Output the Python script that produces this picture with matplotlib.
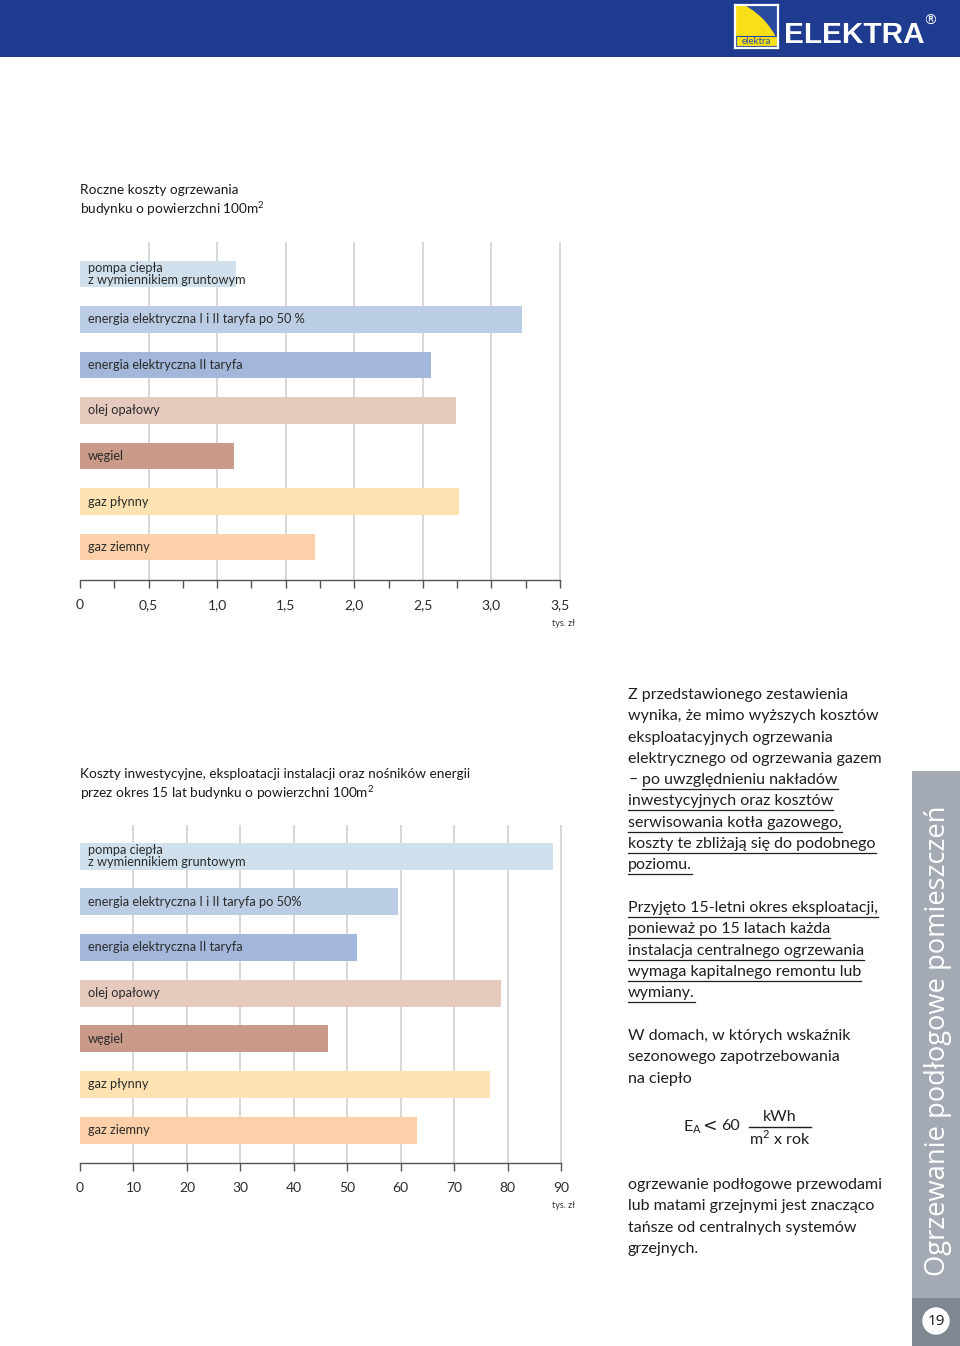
import matplotlib
matplotlib.use("Agg")
import matplotlib.pyplot as plt
from matplotlib.patches import Rectangle, Circle
from matplotlib.lines import Line2D

plt.rcParams['font.family'] = ['Lato', 'DejaVu Sans']

W, H = 960, 1346

# ---------------- data ----------------
categories = ["pompa ciepła\nz wymiennikiem gruntowym",
              "energia elektryczna I i II taryfa po 50 %",
              "energia elektryczna II taryfa",
              "olej opałowy",
              "węgiel",
              "gaz płynny",
              "gaz ziemny"]
categories2 = ["pompa ciepła\nz wymiennikiem gruntowym",
               "energia elektryczna I i II taryfa po 50%",
               "energia elektryczna II taryfa",
               "olej opałowy",
               "węgiel",
               "gaz płynny",
               "gaz ziemny"]
annual_costs = [1.14, 3.22, 2.56, 2.74, 1.12, 2.76, 1.71]          # tys. zł / rok
costs_15y = [88.5, 59.5, 51.8, 78.8, 46.4, 76.7, 63.1]             # tys. zł / 15 lat
ticks1 = [0, 0.5, 1.0, 1.5, 2.0, 2.5, 3.0, 3.5]
minor1 = [0.25, 0.75, 1.25, 1.75, 2.25, 2.75, 3.25]
ticks2 = [0, 10, 20, 30, 40, 50, 60, 70, 80, 90]
colors = ["#d0e1ed", "#bacde5", "#a2b7d9", "#e6cabd", "#c99a87", "#fde3b1", "#fcd1a9"]

title1 = "Roczne koszty ogrzewania\nbudynku o powierzchni 100m$^\\mathregular{2}$"
title2 = ("Koszty inwestycyjne, eksploatacji instalacji oraz nośników energii\n"
          "przez okres 15 lat budynku o powierzchni 100m$^\\mathregular{2}$")
unit = "tys. zł"

fig = plt.figure(figsize=(W / 100, H / 100), dpi=100)
fig.patch.set_facecolor("white")


def rect(l, t, r, b):
    return [l / W, 1 - b / H, (r - l) / W, (b - t) / H]


def fx(x):
    return x / W


def fy(y):
    return 1 - y / H


# ---------------- header ----------------
fig.patches.append(Rectangle((0, fy(57)), 1, 57 / H, transform=fig.transFigure,
                             facecolor="#1f3b8f", edgecolor="none", zorder=0))
# logo box
lx0, ly0, lx1, ly1 = 735, 5, 778, 48
lax = fig.add_axes(rect(lx0, ly0, lx1, ly1))
lax.set_zorder(5)
lax.set_xlim(0, 1)
lax.set_ylim(0, 1)
lax.set_xticks([])
lax.set_yticks([])
lax.set_facecolor("#2a4aa0")
for s in lax.spines.values():
    s.set_color("white")
    s.set_linewidth(1.6)
lax.add_patch(Circle((-0.6, -0.55), 1.75, facecolor="#f7e017", edgecolor="none"))
lax.add_patch(Rectangle((0.03, 0.04), 0.94, 0.24, facecolor="#f7e017", edgecolor="#2a4aa0", lw=0.8))
lax.text(0.5, 0.16, "elektra", ha="center", va="center", fontsize=7, color="#2a4aa0")
fig.text(fx(784), fy(35), "ELEKTRA", fontsize=21.4, fontweight="bold", color="white",
         family=["Liberation Sans", "DejaVu Sans"], ha="left", va="center")
fig.text(fx(930), fy(21), "®", fontsize=10, color="white", ha="center", va="center",
         family=["DejaVu Sans"])


# ---------------- bar charts ----------------
def bar_chart(box, values, labels, xmax, ticks, minor, ymin_top, ymax_bottom, fmt):
    ax = fig.add_axes(rect(*box))
    n = len(values)
    ypos = list(range(n))
    ax.set_xlim(0, xmax)
    ax.set_ylim(ymax_bottom, ymin_top)
    ax.vlines([t for t in ticks if t > 0], ymin_top, ymax_bottom, colors="#d4d4d4",
              linewidth=1.3, zorder=0, clip_on=False)
    ax.barh(ypos, values, height=0.59, color=colors, zorder=2, linewidth=0)
    for y, lab in zip(ypos, labels):
        ax.text(xmax * 8 / 480, y, lab, ha="left", va="center",
                fontsize=9.2, color="#2b2b2b", zorder=3, linespacing=0.95)
    for s in ["top", "right", "left"]:
        ax.spines[s].set_visible(False)
    ax.spines["bottom"].set_color("#555555")
    ax.spines["bottom"].set_linewidth(1.0)
    ax.set_yticks([])
    ax.set_xticks(ticks, [fmt(t) for t in ticks])
    if minor:
        ax.set_xticks(minor, minor=True)
    ax.tick_params(axis="x", which="both", direction="out", length=5.5, width=1.0,
                   color="#555555", pad=8.5, labelsize=10, labelcolor="#2b2b2b")
    ax.patch.set_alpha(0)
    return ax


def fmt1(v):
    return "0" if v == 0 else f"{v:.1f}".replace(".", ",")


def fmt2(v):
    return f"{v:d}"


bar_chart((80, 242, 560, 580), annual_costs, categories, 3.5, ticks1, minor1,
          -0.703, 6.725, fmt1)
bar_chart((80, 825, 561, 1163), costs_15y, categories2, 90, ticks2, None,
          -0.68, 6.72, fmt2)

fig.text(fx(80), fy(201), title1, fontsize=9.8, color="#1a1a1a", ha="left", va="center",
         linespacing=1.2)
fig.text(fx(80), fy(785), title2, fontsize=9.8, color="#1a1a1a", ha="left", va="center",
         linespacing=1.2)
fig.text(fx(563), fy(623), unit, fontsize=6.5, color="#333333", ha="center", va="center")
fig.text(fx(563), fy(1206), unit, fontsize=6.5, color="#333333", ha="center", va="center")

# ---------------- right column text ----------------
TX = 628
LS = 21.3
fs = 11.5
tcol = "#1e1e1e"
para1 = [("Z przedstawionego zestawienia", False),
         ("wynika, że mimo wyższych kosztów", False),
         ("eksploatacyjnych ogrzewania", False),
         ("elektrycznego od ogrzewania gazem", False),
         (None, True),
         ("inwestycyjnych oraz kosztów", True),
         ("serwisowania kotła gazowego,", True),
         ("koszty te zbliżają się do podobnego", True),
         ("poziomu.", True)]
para2 = ["Przyjęto 15-letni okres eksploatacji,",
         "ponieważ po 15 latach każda",
         "instalacja centralnego ogrzewania",
         "wymaga kapitalnego remontu lub",
         "wymiany."]
para3 = ["W domach, w których wskaźnik",
         "sezonowego zapotrzebowania",
         "na ciepło"]
para4 = ["ogrzewanie podłogowe przewodami",
         "lub matami grzejnymi jest znacząco",
         "tańsze od centralnych systemów",
         "grzejnych."]

underlined = []
y = 695
for txt, ul in para1:
    if txt is None:
        fig.text(fx(TX), fy(y), "–", fontsize=fs, color=tcol, va="center", ha="left")
        t = fig.text(fx(642), fy(y), "po uwzględnieniu nakładów", fontsize=fs, color=tcol,
                     va="center", ha="left")
    else:
        t = fig.text(fx(TX), fy(y), txt, fontsize=fs, color=tcol, va="center", ha="left")
    if ul:
        underlined.append((t, y))
    y += LS
y = 908
for txt in para2:
    t = fig.text(fx(TX), fy(y), txt, fontsize=fs, color=tcol, va="center", ha="left")
    underlined.append((t, y))
    y += LS
y = 1036
for txt in para3:
    fig.text(fx(TX), fy(y), txt, fontsize=fs, color=tcol, va="center", ha="left")
    y += LS
y = 1185
for txt in para4:
    fig.text(fx(TX), fy(y), txt, fontsize=fs, color=tcol, va="center", ha="left")
    y += LS

# formula
fig.text(fx(683), fy(1127), r"E$_\mathregular{A}$", fontsize=fs, color=tcol,
         va="center", ha="left")
fig.text(fx(709), fy(1126), "<", fontsize=12.5, color=tcol, va="center", ha="center",
         family=["DejaVu Sans"])
fig.text(fx(730), fy(1126), "60", fontsize=fs, color=tcol, va="center", ha="center")
fig.text(fx(780), fy(1117), "kWh", fontsize=fs, color=tcol, va="center", ha="center")
fig.text(fx(780), fy(1138), r"m$^\mathregular{2}$ x rok", fontsize=fs, color=tcol,
         va="center", ha="center")
fig.lines.append(Line2D([fx(749), fx(811)], [fy(1127), fy(1127)], transform=fig.transFigure,
                        color=tcol, linewidth=1.0))

# underlines
fig.canvas.draw()
r = fig.canvas.get_renderer()
for t, yy in underlined:
    bb = t.get_window_extent(r)
    fig.lines.append(Line2D([bb.x0 / W, bb.x1 / W], [fy(yy + 9), fy(yy + 9)],
                            transform=fig.transFigure, color=tcol, linewidth=0.9))

# ---------------- side band ----------------
fig.patches.append(Rectangle((fx(912), fy(1298)), 48 / W, (1298 - 771) / H,
                             transform=fig.transFigure, facecolor="#a4aab3",
                             edgecolor="none"))
fig.patches.append(Rectangle((fx(912), 0), 48 / W, 48 / H, transform=fig.transFigure,
                             facecolor="#7f8792", edgecolor="none"))
fig.text(fx(938), fy(1276), "Ogrzewanie podłogowe pomieszczeń", rotation=90, fontsize=19.7,
         color="white", ha="center", va="bottom", family=["Open Sans", "DejaVu Sans"])
cax = fig.add_axes(rect(922, 1307, 950, 1335))
cax.set_zorder(5)
cax.set_xlim(-1, 1)
cax.set_ylim(-1, 1)
cax.axis("off")
cax.add_patch(Circle((0, 0), 0.98, facecolor="white", edgecolor="none"))
cax.text(0, -0.02, "19", ha="center", va="center", fontsize=11, color="#1a1a1a",
         family=["Open Sans", "DejaVu Sans"])

fig.savefig("out.png", dpi=100)
